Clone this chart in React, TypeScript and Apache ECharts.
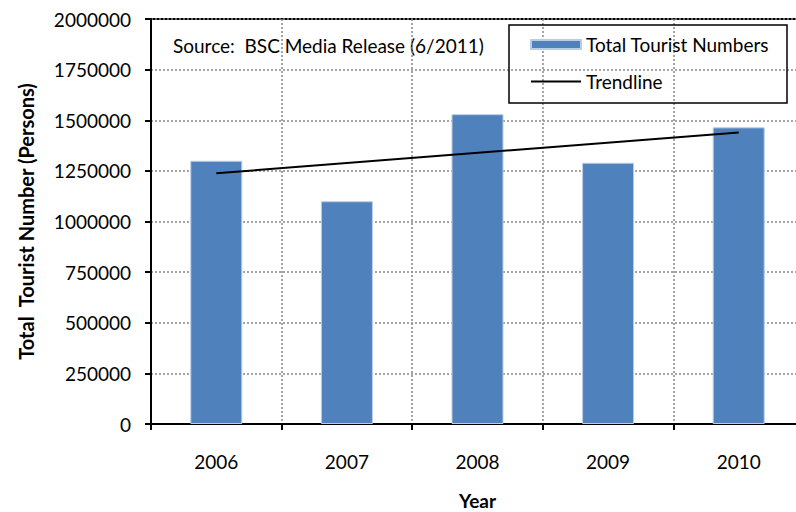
import React, { useEffect, useRef } from "react";
import * as echarts from "echarts";

const years = ["2006", "2007", "2008", "2009", "2010"];
const touristNumbers = [1300000, 1100000, 1530000, 1290000, 1465000];
// Trendline read at its two visible end points
const trendline = [1238000, null, null, null, 1440000];
const yTicks = [0, 250000, 500000, 750000, 1000000, 1250000, 1500000, 1750000, 2000000];

const FONT = "Lato, 'Open Sans', sans-serif";
const FS = 19;

export default function App() {
  const ref = useRef<HTMLDivElement>(null);
  useEffect(() => {
    if (!ref.current) return;
    const chart = echarts.init(ref.current, null, { renderer: "svg" });
    chart.setOption({
      animation: false,
      backgroundColor: "#fff",
      textStyle: { fontFamily: FONT },
      grid: {
        left: 151,
        width: 653,
        top: 19,
        height: 405,
        show: true,
        borderColor: "#000",
        borderWidth: 2,
        backgroundColor: "transparent",
      },
      legend: {
        orient: "vertical",
        left: 530,
        top: 35,
        padding: 0,
        itemWidth: 50,
        itemHeight: 9,
        itemGap: 18,
        textStyle: { fontSize: FS, color: "#000", fontFamily: FONT },
        data: [
          { name: "Total Tourist Numbers", icon: "rect" },
          { name: "Trendline", itemStyle: { opacity: 0 } },
        ],
      },
      graphic: [
        {
          type: "rect",
          shape: { x: 509, y: 25, width: 278, height: 78 },
          style: { fill: "transparent", stroke: "#000", lineWidth: 1.5 },
          z: 10,
        },
        {
          type: "text",
          x: 173,
          y: 45,
          style: {
            text: "Source:  BSC Media Release (6/2011)",
            fontSize: FS,
            fontFamily: FONT,
            fill: "#000",
            verticalAlign: "middle",
            align: "left",
          },
        },
      ],
      xAxis: {
        type: "category",
        data: years,
        boundaryGap: true,
        name: "Year",
        nameLocation: "middle",
        nameGap: 67,
        nameTextStyle: { fontSize: 19, lineHeight: 18, fontWeight: "bold", color: "#000", fontFamily: FONT },
        axisLine: { lineStyle: { color: "#000", width: 2 } },
        axisTick: { show: true, length: 6, lineStyle: { color: "#000", width: 2 } },
        axisLabel: { fontSize: FS, color: "#000", margin: 28, fontFamily: FONT },
        splitLine: { show: true, lineStyle: { color: "#888", type: [2, 2], width: 1.5 } },
      },
      yAxis: {
        type: "value",
        min: 0,
        max: 2000000,
        interval: 250000,
        name: "Total  Tourist Number (Persons)",
        nameLocation: "middle",
        nameGap: 115,
        nameTextStyle: { fontSize: 20, fontWeight: "bold", color: "#000", fontFamily: FONT },
        axisLine: { show: true, lineStyle: { color: "#000", width: 2 } },
        axisTick: { show: true, length: 6, lineStyle: { color: "#000", width: 2 } },
        axisLabel: {
          fontSize: FS,
          color: "#000",
          margin: 20,
          fontFamily: FONT,
          formatter: (v: number) => (yTicks.includes(v) ? String(v) : ""),
        },
        splitLine: { show: true, lineStyle: { color: "#888", type: [2, 2], width: 1.5 } },
      },
      series: [
        {
          name: "Total Tourist Numbers",
          type: "bar",
          data: touristNumbers,
          barWidth: 52,
          itemStyle: { color: "#4F81BD", borderColor: "#B9CDE5", borderWidth: 1 },
        },
        {
          name: "Trendline",
          type: "line",
          data: trendline,
          connectNulls: true,
          symbol: "none",
          lineStyle: { color: "#000", width: 2 },
          itemStyle: { color: "#000" },
        },
      ],
    });
    return () => chart.dispose();
  }, []);
  return (
    <div style={{ position: "fixed", left: 0, top: 0, width: 796, height: 512, overflow: "hidden", background: "#fff" }}>
      <div ref={ref} style={{ width: 820, height: 530 }} />
    </div>
  );
}
